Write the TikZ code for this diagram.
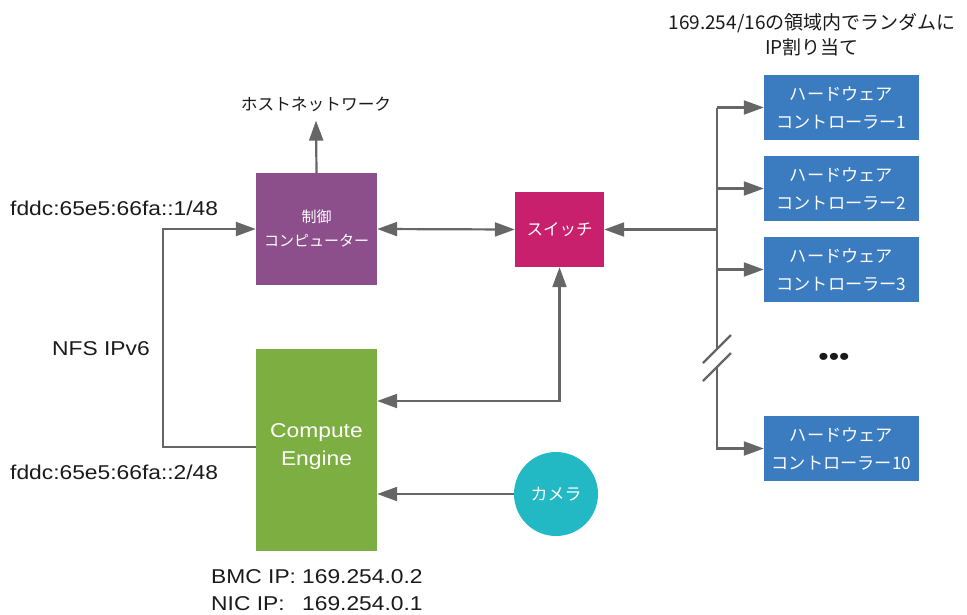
\documentclass[tikz,border=0pt]{standalone}
\usepackage{fontspec}
\setmainfont[FakeStretch=1.14]{Liberation Sans}
\newfontfamily\jp{Noto Sans CJK JP}
\usetikzlibrary{arrows.meta}
\definecolor{ctrlc}{HTML}{8C4F8C}
\definecolor{cec}{HTML}{7DAE42}
\definecolor{swc}{HTML}{C8206C}
\definecolor{hwc}{HTML}{3B7BC0}
\definecolor{camc}{HTML}{22B8C4}
\definecolor{linec}{HTML}{666666}
\definecolor{txtc}{HTML}{1A1A1A}
\tikzset{
  box/.style={fill=#1, draw=none, text=white, align=center, inner sep=0pt},
  hwbox/.style={box=hwc, minimum width=155pt, minimum height=65pt, font=\jp\fontsize{17.2}{28}\selectfont},
  lbl/.style={text=txtc, inner sep=0pt, font=\fontsize{20}{24}\selectfont},
  jlbl/.style={text=txtc, inner sep=0pt, font=\jp\fontsize{16.7}{20}\selectfont},
  conn/.style={draw=linec, line width=2.2pt},
  arr/.style={conn, -{Triangle[length=20pt,width=14pt]}},
  arrb/.style={conn, {Triangle[length=20pt,width=14pt]}-{Triangle[length=20pt,width=14pt]}}
}
\begin{document}
\begin{tikzpicture}[x=1pt,y=-1pt]
\useasboundingbox (0,0) rectangle (967,614);

% boxes
\node[box=ctrlc, minimum width=121pt, minimum height=112pt, font=\jp\fontsize{15}{24}\selectfont] (cc) at (316.5,229) {制御\\コンピューター};
\node[box=cec, minimum width=121pt, minimum height=202pt] (ce) at (316.5,450) {};
\node[text=white, align=center, inner sep=0pt, font=\fontsize{20}{28}\selectfont] (cet) at ([yshift=3pt]ce.center) {Compute\\Engine};
\node[box=swc, minimum width=89pt, minimum height=75pt, font=\jp\fontsize{16.5}{20}\selectfont] (sw) at (559.5,229.5) {スイッチ};
\node[hwbox] (hw1) at (841.5,107.5) {ハードウェア\\コントローラー1};
\node[hwbox] (hw2) at (841.5,188.5) {ハードウェア\\コントローラー2};
\node[hwbox] (hw3) at (841.5,269.5) {ハードウェア\\コントローラー3};
\node[hwbox] (hw10) at (841.5,448.5) {ハードウェア\\コントローラー10};
\node[circle, fill=camc, text=white, minimum size=84pt, inner sep=0pt, font=\jp\fontsize{17}{20}\selectfont] (cam) at (556,494) {カメラ};

% labels
\node[jlbl, inner ysep=9pt] (host) at (316,104) {ホストネットワーク};
\node[lbl, anchor=west] (a1) at (10,208) {fddc:65e5:66fa::1/48};
\node[lbl, anchor=east] (nfs) at (150,349) {NFS IPv6};
\node[lbl, anchor=west] (a2) at (10,472) {fddc:65e5:66fa::2/48};
\node[lbl, anchor=west] (bmcl) at (211,577) {BMC IP:};
\node[lbl, anchor=west] (bmcv) at (302,577) {169.254.0.2};
\node[lbl, anchor=west] (nicl) at (211,604) {NIC IP:};
\node[lbl, anchor=west] (nicv) at (302,604) {169.254.0.1};
\node[jlbl, font=\jp\fontsize{19}{22}\selectfont] (top1) at (812,23) {169.254/16の領域内でランダムに};
\node[jlbl, font=\jp\fontsize{19}{22}\selectfont] (top2) at (812,47) {IP割り当て};
\node[lbl, font=\fontsize{26}{28}\selectfont] (dots) at (834,359) {•••};

% coordinates
\coordinate (bus) at (717,0);
\coordinate (brkA) at (717,349);
\coordinate (brkB) at (717,367);
\coordinate (nfsL) at (163,447);
\coordinate (k) at (559.5,401);

% connectors
\draw[arr] (cc.north) -- (host.south);
\draw[arrb] (cc.east) -- (sw.west);
\draw[arr] (sw.east -| bus) -- (sw.east);
\draw[conn] (hw1.west -| bus) -- (brkA);
\draw[arr] (hw1.west -| bus) -- (hw1.west);
\draw[arr] (hw2.west -| bus) -- (hw2.west);
\draw[arr] (hw3.west -| bus) -- (hw3.west);
\draw[arr] (brkB) |- (hw10.west);
\draw[conn] (703,363) -- (731,335);
\draw[conn] (703,381) -- (731,353);
\draw[arrb] (sw.south) |- (ce.east |- k);
\draw[arr] (cam.west) -- (ce.east |- cam.west);
\draw[arr] (ce.west |- nfsL) -- (nfsL) |- (cc.west);
\end{tikzpicture}
\end{document}
